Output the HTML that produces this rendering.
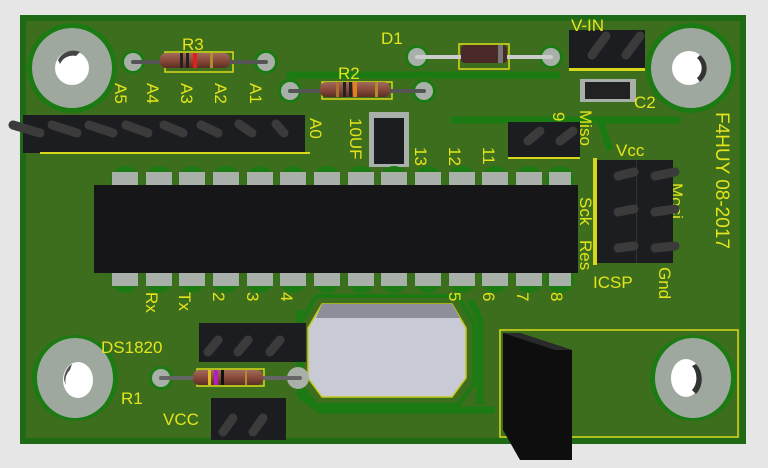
<!DOCTYPE html>
<html><head><meta charset="utf-8"><style>
html,body{margin:0;padding:0;background:#e6e6e6;}
svg{display:block}
text{font-family:"Liberation Sans",sans-serif;fill:#e4e41a;}
</style></head><body>
<svg width="768" height="468" viewBox="0 0 768 468" xmlns="http://www.w3.org/2000/svg">
<defs>
<linearGradient id="res" x1="0" y1="0" x2="0" y2="1"><stop offset="0" stop-color="#a06a5a"/><stop offset="0.5" stop-color="#8a4a3a"/><stop offset="1" stop-color="#5a2e24"/></linearGradient>
</defs>
<rect width="768" height="468" fill="#e6e6e6"/>
<!-- board -->
<rect x="23" y="18" width="720" height="423" fill="#3d6e1e"/>
<rect x="23" y="18" width="720" height="423" fill="none" stroke="#1f6a14" stroke-width="6"/>
<!-- traces -->
<g fill="none" stroke="#1c7a12" stroke-width="7" stroke-linejoin="round">
<path d="M290 90 L290 75 L560 75"/>
<path d="M450 120 L680 120"/>
<path d="M300 310 L300 395 L320 410 L495 410"/>
<path d="M470 300 L480 320 L480 405"/>
<path d="M600 120 L610 150"/>
</g>
<polygon points="316,296 458,296 474,324 474,384 458,405 316,405 300,384 300,324" fill="none" stroke="#1c7a12" stroke-width="4"/>
<!-- mounting holes -->
<g>
<circle cx="72" cy="68" r="45" fill="#1c7a12"/><circle cx="72" cy="68" r="40" fill="#9fa89f"/><circle cx="72" cy="68" r="17" fill="#fff"/><path d="M58 60 A17 17 0 0 1 80 52 L76 56 A14 14 0 0 0 60 64Z" fill="#444"/>
<circle cx="691" cy="68" r="45" fill="#1c7a12"/><circle cx="691" cy="68" r="40" fill="#9fa89f"/><circle cx="689" cy="68" r="17" fill="#fff"/><path d="M700 55 A17 17 0 0 1 700 82 L697 78 A13 13 0 0 0 697 58Z" fill="#333"/>
<circle cx="75" cy="378" r="43" fill="#1c7a12"/><ellipse cx="75" cy="378" rx="38" ry="40" fill="#9fa89f"/><ellipse cx="78" cy="380" rx="15" ry="18" fill="#fff"/><path d="M64 380 A15 18 0 0 1 72 364 L70 370 A12 14 0 0 0 67 388Z" fill="#555"/>
<circle cx="693" cy="378" r="43" fill="#1c7a12"/><ellipse cx="693" cy="378" rx="38" ry="40" fill="#9fa89f"/><ellipse cx="686" cy="378" rx="15" ry="19" fill="#fff"/><path d="M696 364 A15 19 0 0 1 696 394 L692 390 A11 15 0 0 0 692 366Z" fill="#333"/>
</g>
<!-- R3 -->
<g><circle cx="133" cy="62" r="12" fill="#1c7a12"/><circle cx="133" cy="62" r="9" fill="#a9b0a9"/>
<circle cx="266" cy="62" r="12" fill="#1c7a12"/><circle cx="266" cy="62" r="9" fill="#a9b0a9"/>
<rect x="165" y="52" width="68" height="20" fill="none" stroke="#d8d81a" stroke-width="1.5"/>
<path d="M133 62 L266 62" stroke="#555" stroke-width="4" stroke-linecap="round"/>
<rect x="160" y="53" width="70" height="15" rx="6" fill="url(#res)"/>
<rect x="180" y="53" width="3" height="15" fill="#222"/><rect x="186" y="53" width="3" height="15" fill="#222"/><rect x="193" y="53" width="4" height="15" fill="#e02020"/><rect x="210" y="53" width="3" height="15" fill="#b08a30"/>
<text x="182" y="50" font-size="17">R3</text></g>
<!-- R2 -->
<g><circle cx="290" cy="91" r="12" fill="#1c7a12"/><circle cx="290" cy="91" r="9" fill="#a9b0a9"/>
<circle cx="424" cy="91" r="12" fill="#1c7a12"/><circle cx="424" cy="91" r="9" fill="#a9b0a9"/>
<rect x="322" y="82" width="70" height="17" fill="none" stroke="#d8d81a" stroke-width="1.5"/>
<path d="M290 91 L424 91" stroke="#555" stroke-width="4" stroke-linecap="round"/>
<rect x="320" y="82" width="70" height="15" rx="6" fill="url(#res)"/>
<rect x="336" y="82" width="3" height="15" fill="#b07030"/><rect x="343" y="82" width="3" height="15" fill="#222"/><rect x="349" y="82" width="3" height="15" fill="#222"/><rect x="353" y="82" width="4" height="15" fill="#e08020"/><rect x="375" y="82" width="3" height="15" fill="#b08a30"/>
<text x="338" y="79" font-size="17">R2</text></g>
<!-- D1 -->
<g><circle cx="417" cy="57" r="12" fill="#1c7a12"/><circle cx="417" cy="57" r="9" fill="#a9b0a9"/>
<circle cx="551" cy="57" r="12" fill="#1c7a12"/><circle cx="551" cy="57" r="9" fill="#a9b0a9"/>
<rect x="459" y="44" width="50" height="25" fill="none" stroke="#d8d81a" stroke-width="1.5"/>
<path d="M417 57 L551 57" stroke="#ccc" stroke-width="4" stroke-linecap="round"/>
<rect x="461" y="45" width="46" height="18" rx="4" fill="#4a2a28"/><rect x="498" y="45" width="5" height="18" fill="#777"/>
<text x="381" y="44" font-size="17">D1</text></g>
<!-- V-IN header -->
<rect x="569" y="30" width="76" height="40" fill="#1c1d20"/><rect x="569" y="68" width="76" height="3" fill="#d8d81a"/>
<path d="M592 55 L606 36 M626 55 L640 36" stroke="#3b3b3b" stroke-width="9" stroke-linecap="round"/>
<text x="571" y="31" font-size="17">V-IN</text>
<!-- C2 -->
<rect x="580" y="79" width="56" height="23" fill="#a9b0a9"/><rect x="585" y="82" width="45" height="17" fill="#222"/>
<text x="634" y="108" font-size="17">C2</text>
<!-- header row -->
<rect x="23" y="115" width="282" height="38" fill="#1c1d20"/>
<rect x="40" y="152" width="270" height="2" fill="#d8d81a"/>
<g stroke="#3b3b3b" stroke-width="9" stroke-linecap="round">
<path d="M13 125 L40 133"/><path d="M52 125 L77 133"/><path d="M89 125 L113 133"/><path d="M126 125 L148 133"/><path d="M164 125 L183 133"/><path d="M201 125 L218 133"/><path d="M239 124 L252 133"/><path d="M276 124 L284 133"/>
</g>
<g font-size="17">
<text transform="translate(115,83) rotate(90)">A5</text>
<text transform="translate(147,83) rotate(90)">A4</text>
<text transform="translate(181,83) rotate(90)">A3</text>
<text transform="translate(215,83) rotate(90)">A2</text>
<text transform="translate(250,83) rotate(90)">A1</text>
<text transform="translate(310,118) rotate(90)">A0</text>
<text transform="translate(350,118) rotate(90)">10UF</text>
<text transform="translate(415,147) rotate(90)">13</text>
<text transform="translate(449,147) rotate(90)">12</text>
<text transform="translate(483,147) rotate(90)">11</text>
<text transform="translate(553,112) rotate(90)">9</text>
<text transform="translate(580,110) rotate(90)">Miso</text>
<text transform="translate(580,197) rotate(90)">Sck</text>
<text transform="translate(580,240) rotate(90)">Res</text>
<text transform="translate(671,183) rotate(90)">Mosi</text>
<text transform="translate(659,267) rotate(90)">Gnd</text>
<text transform="translate(716,112) rotate(90)" font-size="19">F4HUY 08-2017</text>
</g>
<!-- 10uF cap -->
<rect x="369" y="112" width="40" height="55" fill="#a9b0a9"/><rect x="374" y="118" width="30" height="46" fill="#1c1d20"/>
<!-- jumper 9 -->
<rect x="508" y="122" width="72" height="37" fill="#1c1d20"/><rect x="508" y="157" width="72" height="2" fill="#d8d81a"/>
<path d="M528 141 L540 131 M560 141 L573 131" stroke="#3b3b3b" stroke-width="9" stroke-linecap="round"/>
<!-- ICSP -->
<rect x="593" y="158" width="4" height="107" fill="#d8d81a"/>
<rect x="597" y="160" width="76" height="103" fill="#1c1d20"/><rect x="636" y="160" width="1" height="103" fill="#333"/>
<g stroke="#3b3b3b" stroke-width="9" stroke-linecap="round">
<path d="M618 176 L634 172 M655 176 L675 172 M618 212 L634 209 M655 212 L675 209 M618 248 L634 246 M655 248 L675 246"/>
</g>
<text x="616" y="156" font-size="17">Vcc</text>
<text x="593" y="288" font-size="17">ICSP</text>
<!-- IC pad rings -->
<g fill="#1c7a12">
<g id="rings">
<circle cx="125" cy="180" r="14"/><circle cx="159" cy="180" r="14"/><circle cx="192" cy="180" r="14"/><circle cx="226" cy="180" r="14"/><circle cx="260" cy="180" r="14"/><circle cx="293" cy="180" r="14"/><circle cx="327" cy="180" r="14"/><circle cx="361" cy="180" r="14"/><circle cx="394" cy="180" r="14"/><circle cx="428" cy="180" r="14"/><circle cx="462" cy="180" r="14"/><circle cx="495" cy="180" r="14"/><circle cx="529" cy="180" r="14"/><circle cx="560" cy="180" r="14"/>
</g>
<use href="#rings" y="99"/>
</g>
<g fill="#a9b0a9">
<g id="pads">
<rect x="112" y="172" width="26" height="15"/><rect x="146" y="172" width="26" height="15"/><rect x="179" y="172" width="26" height="15"/><rect x="213" y="172" width="26" height="15"/><rect x="247" y="172" width="26" height="15"/><rect x="280" y="172" width="26" height="15"/><rect x="314" y="172" width="26" height="15"/><rect x="348" y="172" width="26" height="15"/><rect x="381" y="172" width="26" height="15"/><rect x="415" y="172" width="26" height="15"/><rect x="449" y="172" width="26" height="15"/><rect x="482" y="172" width="26" height="15"/><rect x="516" y="172" width="26" height="15"/><rect x="549" y="172" width="22" height="15"/>
</g>
<use href="#pads" y="99"/>
</g>
<rect x="94" y="185" width="484" height="88" fill="#161618"/>
<g font-size="17">
<text transform="translate(146,292) rotate(90)">Rx</text>
<text transform="translate(179,292) rotate(90)">Tx</text>
<text transform="translate(213,292) rotate(90)">2</text>
<text transform="translate(247,292) rotate(90)">3</text>
<text transform="translate(281,292) rotate(90)">4</text>
<text transform="translate(449,292) rotate(90)">5</text>
<text transform="translate(483,292) rotate(90)">6</text>
<text transform="translate(517,292) rotate(90)">7</text>
<text transform="translate(551,292) rotate(90)">8</text>
</g>
<!-- crystal -->
<polygon points="322,304 452,304 466,328 466,378 452,397 322,397 308,378 308,328" fill="#c8cad6" stroke="#c8c81a" stroke-width="1.5"/>
<polygon points="322,304 452,304 460,318 316,318" fill="#8d8f98"/>
<!-- DS1820 -->
<rect x="199" y="323" width="107" height="39" fill="#1c1d20"/>
<path d="M208 352 L218 340 M238 352 L248 340 M270 352 L280 340" stroke="#3b3b3b" stroke-width="9" stroke-linecap="round"/>
<text x="101" y="353" font-size="17">DS1820</text>
<!-- R1 -->
<circle cx="161" cy="378" r="12" fill="#1c7a12"/><circle cx="161" cy="378" r="9" fill="#a9b0a9"/>
<circle cx="298" cy="378" r="11" fill="#a9b0a9"/>
<rect x="197" y="369" width="67" height="17" fill="none" stroke="#d8d81a" stroke-width="1.5"/>
<path d="M161 378 L300 378" stroke="#666" stroke-width="4" stroke-linecap="round"/>
<rect x="193" y="370" width="70" height="15" rx="6" fill="url(#res)"/>
<rect x="208" y="370" width="3" height="15" fill="#e0c020"/><rect x="214" y="370" width="4" height="15" fill="#b020c0"/><rect x="221" y="370" width="3" height="15" fill="#111"/><rect x="245" y="370" width="2" height="15" fill="#b08a30"/>
<text x="121" y="404" font-size="17">R1</text>
<!-- VCC header -->
<rect x="211" y="398" width="75" height="42" fill="#1c1d20"/>
<path d="M223 432 L233 418 M253 432 L263 418" stroke="#3b3b3b" stroke-width="9" stroke-linecap="round"/>
<text x="163" y="425" font-size="17">VCC</text>
<!-- regulator area -->
<rect x="500" y="330" width="238" height="107" fill="none" stroke="#d8d81a" stroke-width="1.5"/>
<polygon points="503,333 520,333 572,350 572,460 520,460 503,430" fill="#0e0e0e"/>
<polygon points="503,333 520,333 572,350 555,350" fill="#2a2a2a"/>
</svg>
</body></html>
